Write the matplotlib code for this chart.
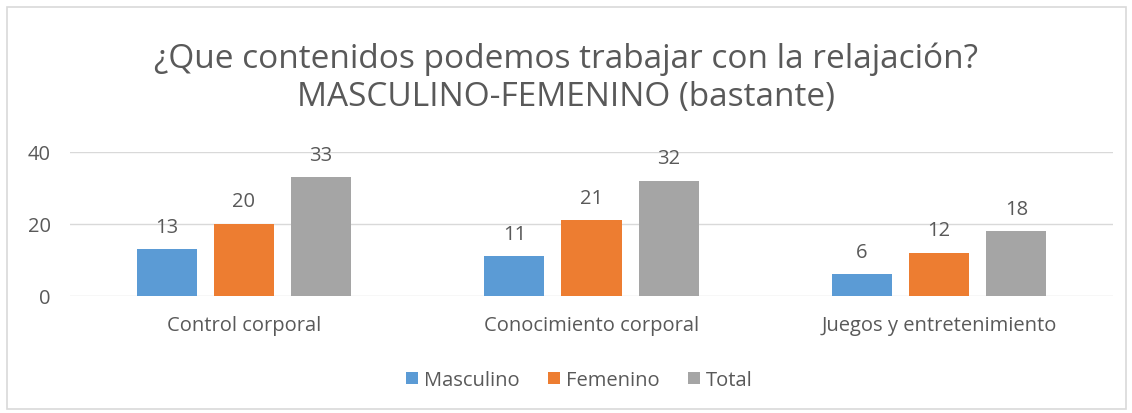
import matplotlib
matplotlib.use("Agg")
import matplotlib.pyplot as plt
from matplotlib.patches import Rectangle
import numpy as np

categories = ["Control corporal", "Conocimiento corporal", "Juegos y entretenimiento"]
series_names = ["Masculino", "Femenino", "Total"]
masculino = [13, 11, 6]
femenino = [20, 21, 12]
total = [33, 32, 18]
yticks = [0, 20, 40]
title = "¿Que contenidos podemos trabajar con la relajación?\nMASCULINO-FEMENINO (bastante)"

colors = ["#5B9BD5", "#ED7D31", "#A5A5A5"]
text_color = "#595959"
plt.rcParams["font.family"] = ["Open Sans", "DejaVu Sans"]

fig = plt.figure(figsize=(11.32, 4.14), dpi=100)
fig.patches.append(Rectangle((7/1132, 4/414), 1119/1132, 402/414, transform=fig.transFigure,
                             fill=False, edgecolor="#D9D9D9", linewidth=1.2))
ax = fig.add_axes([70/1132, 1-297/414, 1043/1132, 144/414])

x = np.arange(len(categories))
width = 0.173
offset = 0.222
for i, (vals, name) in enumerate(zip([masculino, femenino, total], series_names)):
    pos = x + (i - 1) * offset
    bars = ax.bar(pos, vals, width, color=colors[i], label=name, zorder=3)
    for p, v in zip(pos, vals):
        ax.annotate(str(v), (p, v), xytext=(0, 9), textcoords="offset points",
                    ha="center", va="bottom", fontsize=14.5, color=text_color)

ax.set_xlim(-0.5, len(categories) - 0.5)
ax.set_ylim(0, 40)
ax.set_yticks(yticks)
ax.set_xticks(x)
ax.set_xticklabels(categories)
ax.tick_params(axis="both", length=0, labelsize=14.5, labelcolor=text_color)
ax.tick_params(axis="x", pad=14)
ax.tick_params(axis="y", pad=14)
ax.grid(axis="y", color="#D9D9D9", linewidth=1, zorder=0)
for s in ax.spines.values():
    s.set_visible(False)

fig.text(0.5, 1-78/414, title, ha="center", va="center", fontsize=24, color=text_color,
         linespacing=1.2)

leg = fig.legend(loc="center", bbox_to_anchor=(579/1132, 1-381/414), ncol=3, frameon=False,
                 fontsize=14.5, handlelength=0.6, handleheight=0.6, handletextpad=0.3,
                 columnspacing=1.4)
for t in leg.get_texts():
    t.set_color(text_color)

fig.savefig("out.png", dpi=100)
